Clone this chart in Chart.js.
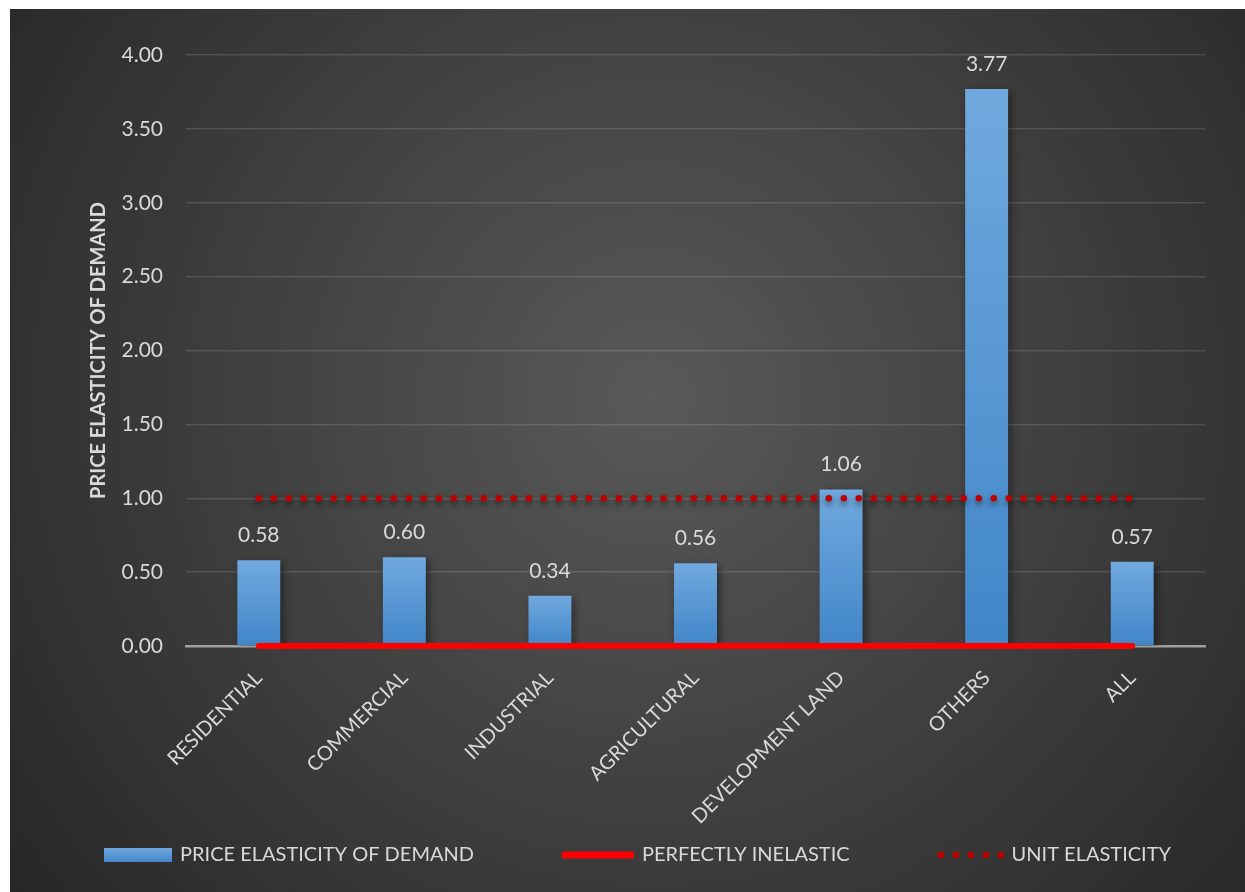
<!DOCTYPE html>
<html>
<head>
<meta charset="utf-8">
<title>Price elasticity of demand</title>
<script src="https://cdn.jsdelivr.net/npm/chart.js@4.4.1/dist/chart.umd.min.js"></script>
<style>
  body { margin: 0; background: #ffffff; }
  #grafico { position: absolute; left: 10px; top: 9px; width: 1235px; height: 883px; }
</style>
</head>
<body>
<div id="grafico">
  <canvas id="myChart" width="1235" height="883"></canvas>
</div>
<script>
const categorias = ["RESIDENTIAL", "COMMERCIAL", "INDUSTRIAL", "AGRICULTURAL", "DEVELOPMENT LAND", "OTHERS", "ALL"];
const elasticidad = [0.58, 0.60, 0.34, 0.56, 1.06, 3.77, 0.57];
const perfectamenteInelastica = [0, 0, 0, 0, 0, 0, 0];
const unitaria = [1, 1, 1, 1, 1, 1, 1];
const yMin = 0;
const yMax = 4;
const yPaso = 0.5;

const fuente = "Lato";
const colorTexto = "#d9d9d9";

// fondo gris oscuro con centro mas claro
const fondoPlugin = {
  id: "fondo",
  beforeDraw(chart) {
    const ctx = chart.ctx;
    const w = chart.width;
    const h = chart.height;
    const g = ctx.createRadialGradient(w * 0.52, h * 0.44, 0, w * 0.52, h * 0.44, 820);
    g.addColorStop(0, "#595959");
    g.addColorStop(1, "#262626");
    ctx.save();
    ctx.fillStyle = g;
    ctx.fillRect(0, 0, w, h);
    ctx.restore();
  }
};

// sombra para las barras y la linea punteada
const sombraPlugin = {
  id: "sombra",
  beforeDatasetDraw(chart, args) {
    const ctx = chart.ctx;
    ctx.save();
    if (args.index === 0) {
      ctx.shadowColor = "rgba(0,0,0,0.45)";
      ctx.shadowBlur = 8;
      ctx.shadowOffsetX = 3;
      ctx.shadowOffsetY = 3;
    } else if (args.index === 2) {
      ctx.shadowColor = "rgba(0,0,0,0.6)";
      ctx.shadowBlur = 6;
      ctx.shadowOffsetY = 3;
    }
  },
  afterDatasetDraw(chart) {
    chart.ctx.restore();
  }
};

// valores encima de cada barra
const etiquetasPlugin = {
  id: "etiquetas",
  afterDatasetsDraw(chart) {
    const ctx = chart.ctx;
    const meta = chart.getDatasetMeta(0);
    ctx.save();
    ctx.font = `21px ${fuente}`;
    ctx.fillStyle = colorTexto;
    ctx.textAlign = "center";
    ctx.textBaseline = "alphabetic";
    meta.data.forEach((barra, i) => {
      ctx.fillText(elasticidad[i].toFixed(2), barra.x, barra.y - 18);
    });
    ctx.restore();
  }
};

// leyenda dibujada a mano para poder pintar la linea de puntos
const leyendaPlugin = {
  id: "leyenda",
  afterDraw(chart) {
    const ctx = chart.ctx;
    const y = chart.height - 37;
    const anchoSimbolo = [68, 72, 66];
    const separacion = 8;
    const hueco = 88;
    ctx.save();
    ctx.font = `20px ${fuente}`;
    const textos = chart.data.datasets.map((d) => d.label);
    const anchos = textos.map((t, i) => anchoSimbolo[i] + separacion + ctx.measureText(t).width);
    const total = anchos.reduce((a, b) => a + b, 0) + hueco * (anchos.length - 1);
    let x = chart.width / 2 + 10 - total / 2;
    textos.forEach((texto, i) => {
      if (i === 0) {
        const g = ctx.createLinearGradient(0, y - 7, 0, y + 7);
        g.addColorStop(0, "#70a9de");
        g.addColorStop(1, "#4587cb");
        ctx.fillStyle = g;
        ctx.fillRect(x, y - 7, anchoSimbolo[0], 14);
      } else if (i === 1) {
        ctx.strokeStyle = "#ff0000";
        ctx.lineWidth = 7;
        ctx.lineCap = "round";
        ctx.beginPath();
        ctx.moveTo(x + 3, y);
        ctx.lineTo(x + anchoSimbolo[1] - 3, y);
        ctx.stroke();
      } else {
        ctx.fillStyle = "#c00000";
        for (let k = 0; k < 5; k++) {
          ctx.beginPath();
          ctx.arc(x + 3.3 + k * 15, y, 3.3, 0, Math.PI * 2);
          ctx.fill();
        }
      }
      ctx.fillStyle = colorTexto;
      ctx.textAlign = "left";
      ctx.textBaseline = "middle";
      ctx.fillText(texto, x + anchoSimbolo[i] + separacion, y);
      x += anchos[i] + hueco;
    });
    ctx.restore();
  }
};

function colorBarra(context) {
  const chart = context.chart;
  const yScale = chart.scales.y;
  if (!yScale || context.type !== "data") {
    return "#5b9bd5";
  }
  const valor = context.raw;
  const arriba = yScale.getPixelForValue(valor);
  const abajo = yScale.getPixelForValue(0);
  if (!isFinite(arriba) || !isFinite(abajo) || arriba === abajo) {
    return "#5b9bd5";
  }
  const g = chart.ctx.createLinearGradient(0, arriba, 0, abajo);
  g.addColorStop(0, "#70a9de");
  g.addColorStop(1, "#4186c8");
  return g;
}

const data = {
  labels: categorias,
  datasets: [
    {
      type: "bar",
      label: "PRICE ELASTICITY OF DEMAND",
      data: elasticidad,
      backgroundColor: colorBarra,
      borderWidth: 0,
      categoryPercentage: 1,
      barPercentage: 0.295,
      order: 3
    },
    {
      type: "line",
      label: "PERFECTLY INELASTIC",
      data: perfectamenteInelastica,
      borderColor: "#ff0000",
      borderWidth: 6,
      borderCapStyle: "round",
      pointRadius: 0,
      clip: false,
      order: 1
    },
    {
      type: "line",
      label: "UNIT ELASTICITY",
      data: unitaria,
      borderColor: "#c00000",
      borderWidth: 6.5,
      borderDash: [0, 15],
      borderCapStyle: "round",
      pointRadius: 0,
      clip: false,
      order: 2
    }
  ]
};

const config = {
  type: "bar",
  data,
  options: {
    responsive: false,
    animation: false,
    layout: {
      padding: { left: 73, top: 46, right: 40, bottom: 60 }
    },
    plugins: {
      legend: { display: false },
      tooltip: { enabled: false }
    },
    scales: {
      x: {
        grid: { display: false, drawTicks: false },
        border: { display: true, color: "#a0a0a0", width: 2.5 },
        ticks: {
          color: colorTexto,
          font: { family: fuente, size: 20 },
          autoSkip: false,
          minRotation: 45,
          maxRotation: 45,
          padding: 20
        },
        afterFit(scale) {
          scale.height = 186;
        }
      },
      y: {
        min: yMin,
        max: yMax,
        grid: { color: "rgba(255,255,255,0.13)", lineWidth: 1.5, drawTicks: false },
        border: { display: false },
        ticks: {
          stepSize: yPaso,
          color: colorTexto,
          font: { family: fuente, size: 21 },
          padding: 23,
          callback: (valor) => Number(valor).toFixed(2)
        },
        title: {
          display: true,
          text: "PRICE ELASTICITY OF DEMAND",
          color: colorTexto,
          font: { family: fuente, size: 20, weight: "bold" },
          padding: { top: 4, bottom: 0 }
        },
        afterFit(scale) {
          scale.width = 103;
        }
      }
    }
  },
  plugins: [fondoPlugin, sombraPlugin, etiquetasPlugin, leyendaPlugin]
};

const myChart = document.getElementById("myChart");
new Chart(myChart, config);
</script>
</body>
</html>
